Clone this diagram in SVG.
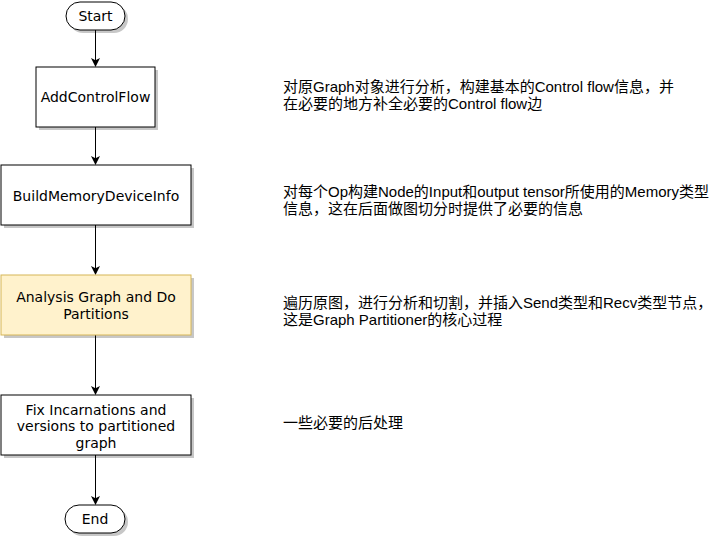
<svg xmlns="http://www.w3.org/2000/svg" width="721" height="539" viewBox="0 0 721 539">
<defs>
<marker id="arr" markerWidth="10" markerHeight="10" refX="8" refY="4.5" orient="auto" markerUnits="userSpaceOnUse">
<path d="M0,0 L9,4.5 L0,9 L2.2,4.5 Z" fill="#000"/>
</marker>
</defs>
<style>
.box{fill:#fff;stroke:#000;stroke-width:1}
.hl{fill:#fff2cc;stroke:#d6b656;stroke-width:1}
.sh{fill:#000;opacity:0.22}
.lbl{font-family:"DejaVu Sans",Verdana,sans-serif;font-size:14px;fill:#000;text-anchor:middle}
.note{font-family:"Liberation Sans","Noto Sans CJK SC",sans-serif;font-size:15px;fill:#000}
.edge{stroke:#000;stroke-width:1;fill:none;marker-end:url(#arr)}
</style>
<rect width="721" height="539" fill="#fff"/>
<g id="connectors">
<line class="edge" x1="95.5" y1="30" x2="95.5" y2="66"/>
<line class="edge" x1="95.5" y1="127" x2="95.5" y2="164"/>
<line class="edge" x1="95.5" y1="225" x2="95.5" y2="274"/>
<line class="edge" x1="95.5" y1="335" x2="95.5" y2="394"/>
<line class="edge" x1="95.5" y1="455" x2="95.5" y2="504"/>
</g>
<g id="start">
<rect class="sh" x="69" y="5" width="59" height="28" rx="14"/>
<rect class="box" x="66" y="2" width="59" height="28" rx="14"/>
<text class="lbl" x="95.5" y="21">Start</text>
</g>
<g id="addcontrolflow">
<rect class="sh" x="39" y="70" width="119" height="60"/>
<rect class="box" x="36" y="67" width="119" height="60"/>
<text class="lbl" x="95.5" y="102">AddControlFlow</text>
</g>
<g id="buildmemory">
<rect class="sh" x="4" y="168" width="190" height="60"/>
<rect class="box" x="1" y="165" width="190" height="60"/>
<text class="lbl" x="96" y="200.5">BuildMemoryDeviceInfo</text>
</g>
<g id="analysis">
<rect class="sh" x="4" y="278" width="190" height="60"/>
<rect class="hl" x="1" y="275" width="190" height="60"/>
<text class="lbl" x="96" y="302">Analysis Graph and Do</text>
<text class="lbl" x="96" y="319">Partitions</text>
</g>
<g id="fix">
<rect class="sh" x="4" y="398" width="190" height="60"/>
<rect class="box" x="1" y="395" width="190" height="60"/>
<text class="lbl" x="96" y="414.5">Fix Incarnations and</text>
<text class="lbl" x="96" y="431">versions to partitioned</text>
<text class="lbl" x="96" y="447.5">graph</text>
</g>
<g id="end">
<rect class="sh" x="68" y="508" width="60" height="28" rx="14"/>
<rect class="box" x="65" y="505" width="60" height="28" rx="14"/>
<text class="lbl" x="95" y="524">End</text>
</g>
<g id="note1">
<text class="note" x="283" y="92">对原Graph对象进行分析，构建基本的Control flow信息，并</text>
<text class="note" x="283" y="109">在必要的地方补全必要的Control flow边</text>
</g>
<g id="note2">
<text class="note" x="283" y="197">对每个Op构建Node的Input和output tensor所使用的Memory类型</text>
<text class="note" x="283" y="214">信息，这在后面做图切分时提供了必要的信息</text>
</g>
<g id="note3">
<text class="note" x="283" y="308">遍历原图，进行分析和切割，并插入Send类型和Recv类型节点，</text>
<text class="note" x="283" y="325">这是Graph Partitioner的核心过程</text>
</g>
<g id="note4">
<text class="note" x="283" y="428">一些必要的后处理</text>
</g>
</svg>
